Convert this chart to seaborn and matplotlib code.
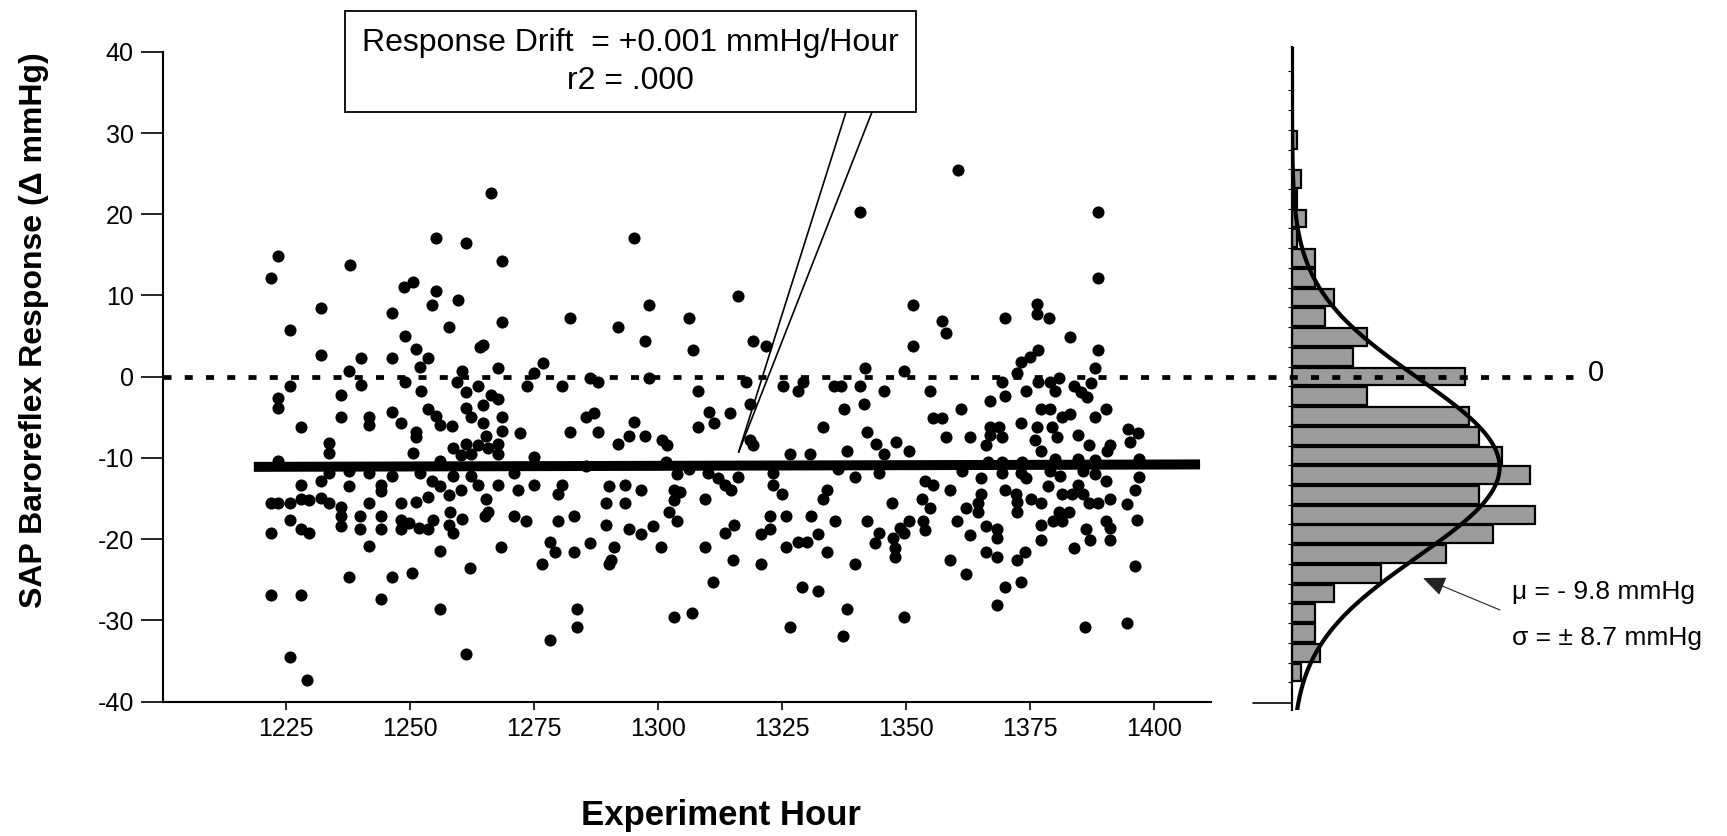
import numpy as np
import pandas as pd
import matplotlib
matplotlib.use("Agg")
import matplotlib.pyplot as plt
from matplotlib.patches import Rectangle
import seaborn as sns

# ---------------- data ----------------
hours = [
    # 1220-1260
    1255.3, 1223.4, 1221.9, 1237.9, 1248.7, 1250.5, 1255.3, 1254.5, 1232.1, 1246.4,
    1225.7, 1257.8, 1248.9, 1251.2, 1232.1, 1240.2, 1246.4, 1253.6, 1251.9, 1237.7,
    1225.7, 1248.9, 1240.2, 1252.2, 1223.4, 1223.4, 1236.1, 1236.1, 1241.7, 1241.7,
    1228.1, 1246.4, 1248.1, 1253.6, 1255.3, 1256.0, 1251.2, 1251.2, 1233.7, 1233.7,
    1250.5, 1223.4, 1256.0, 1233.7, 1237.7, 1241.7, 1251.9, 1258.7, 1228.1, 1232.1,
    1237.7, 1244.1, 1244.1, 1246.4, 1254.5, 1256.0, 1221.9, 1223.4, 1225.7, 1228.1,
    1229.7, 1232.1, 1233.7, 1236.1, 1241.7, 1248.1, 1251.2, 1253.6, 1257.8, 1248.1,
    1249.7, 1251.7, 1253.6, 1254.7, 1240.0, 1244.1, 1236.1, 1236.1, 1225.7, 1228.1,
    1229.7, 1221.9, 1240.0, 1244.1, 1248.1, 1257.8, 1258.7, 1241.7, 1256.0, 1237.7,
    1246.4, 1250.4, 1221.9, 1228.0, 1244.1, 1256.0, 1225.7, 1229.2,
    # 1258-1303
    1266.3, 1261.3, 1268.6, 1295.1, 1259.6, 1298.2, 1268.6, 1282.2, 1291.9, 1297.4,
    1264.0, 1264.6, 1260.5, 1267.8, 1275.0, 1276.7, 1259.4, 1261.2, 1263.6, 1273.5,
    1280.7, 1286.2, 1287.8, 1298.2, 1266.3, 1267.8, 1264.6, 1261.2, 1262.2, 1268.6,
    1264.6, 1258.4, 1285.5, 1287.0, 1295.1, 1268.6, 1272.2, 1282.2, 1287.8, 1294.1,
    1297.4, 1265.3, 1300.7, 1301.7, 1291.9, 1261.2, 1263.6, 1258.7, 1267.8, 1265.6,
    1267.8, 1275.0, 1262.2, 1260.2, 1270.9, 1285.5, 1301.5, 1262.2, 1267.8, 1271.8,
    1275.0, 1280.6, 1279.9, 1290.0, 1293.3, 1296.6, 1260.2, 1263.6, 1265.3, 1289.4,
    1293.3, 1265.6, 1265.0, 1260.5, 1258.1, 1270.9, 1273.3, 1279.9, 1283.1, 1289.4,
    1294.1, 1296.6, 1299.0, 1302.1, 1268.4, 1278.1, 1279.1, 1283.1, 1286.2, 1291.0,
    1290.5, 1290.0, 1300.5, 1276.6, 1262.0, 1283.7, 1283.7, 1278.1, 1261.2,
    # 1303-1348
    1340.7, 1316.0, 1306.3, 1307.0, 1319.2, 1321.8, 1341.6, 1317.7, 1308.0, 1325.1,
    1329.1, 1328.2, 1335.5, 1336.8, 1340.6, 1345.4, 1318.4, 1341.4, 1337.4, 1310.3,
    1311.2, 1314.4, 1308.0, 1333.3, 1342.1, 1343.9, 1318.5, 1319.2, 1338.1, 1345.5,
    1326.5, 1330.5, 1303.7, 1306.2, 1310.0, 1312.1, 1316.0, 1323.2, 1336.3, 1339.6,
    1344.5, 1313.4, 1314.6, 1323.2, 1324.9, 1334.0, 1333.3, 1303.1, 1304.4, 1303.1,
    1309.5, 1347.1, 1303.7, 1322.5, 1325.8, 1330.7, 1335.6, 1342.1, 1315.2, 1313.4,
    1322.5, 1320.8, 1332.3, 1328.2, 1330.0, 1325.8, 1344.4, 1343.7, 1347.8, 1347.8,
    1309.5, 1334.0, 1315.1, 1320.8, 1339.6, 1311.1, 1328.9, 1332.2, 1338.0, 1303.1,
    1306.9, 1326.5, 1337.3,
    # 1347-1397
    1360.4, 1388.7, 1388.7, 1351.4, 1357.1, 1357.9, 1369.9, 1376.4, 1376.4, 1378.8,
    1382.9, 1351.4, 1388.7, 1376.5, 1375.0, 1373.1, 1372.3, 1388.0, 1349.5, 1369.3,
    1369.9, 1374.1, 1376.5, 1379.0, 1380.7, 1379.9, 1383.8, 1385.2, 1386.4, 1387.2,
    1354.7, 1366.8, 1361.1, 1390.2, 1355.3, 1357.1, 1377.2, 1379.0, 1373.2, 1366.8,
    1368.6, 1382.9, 1381.3, 1388.0, 1376.4, 1379.3, 1357.9, 1362.8, 1366.8, 1369.3,
    1375.9, 1380.3, 1384.6, 1366.1, 1348.0, 1350.5, 1377.2, 1386.9, 1391.1, 1390.4,
    1379.9, 1384.6, 1388.0, 1366.5, 1369.3, 1373.4, 1361.2, 1365.0, 1369.3, 1373.1,
    1374.1, 1379.0, 1381.0, 1385.6, 1388.0, 1353.7, 1355.3, 1358.9, 1390.2, 1378.6,
    1384.6, 1369.9, 1365.0, 1353.1, 1372.1, 1372.4, 1375.2, 1377.2, 1381.4, 1383.4,
    1385.6, 1386.9, 1388.7, 1391.1, 1364.4, 1362.0, 1354.7, 1372.4, 1364.4, 1380.7,
    1382.8, 1379.6, 1381.3, 1350.5, 1353.3, 1360.2, 1366.0, 1368.2, 1377.2, 1390.2,
    1391.1, 1348.7, 1349.5, 1353.7, 1347.4, 1386.2, 1387.0, 1391.1, 1362.8, 1368.2,
    1377.2, 1383.8, 1366.0, 1368.3, 1373.9, 1372.4, 1358.8, 1362.0, 1369.9, 1373.1,
    1368.2, 1349.5, 1386.1,
    1394.7, 1396.7, 1395.1, 1396.9, 1396.9, 1396.0, 1394.5, 1396.4, 1396.0, 1394.4,
]

responses = [
    # 1220-1260
    17.1, 14.9, 12.2, 13.8, 11.1, 11.6, 10.5, 8.8, 8.4, 7.8,
    5.7, 6.1, 5.0, 3.4, 2.7, 2.3, 2.3, 2.3, 1.2, 0.7,
    -1.1, -0.6, -1.0, -1.7, -2.6, -3.9, -2.3, -5.0, -5.0, -5.9,
    -6.2, -4.4, -5.7, -4.0, -4.8, -5.9, -6.8, -7.4, -8.2, -9.4,
    -9.4, -10.4, -10.4, -11.8, -11.6, -11.8, -11.8, -12.2, -13.3, -12.9,
    -13.4, -13.3, -14.1, -12.2, -12.9, -13.5, -15.5, -15.5, -15.5, -15.0,
    -15.2, -14.9, -15.5, -16.1, -15.5, -15.5, -15.4, -14.8, -14.6, -17.7,
    -18.0, -18.6, -18.8, -17.7, -17.2, -17.2, -17.1, -18.4, -17.6, -18.8,
    -19.3, -19.2, -18.7, -18.7, -18.7, -18.2, -19.3, -20.9, -21.4, -24.7,
    -24.7, -24.2, -26.9, -26.9, -27.4, -28.6, -34.5, -37.4,
    # 1258-1303
    22.6, 16.5, 14.3, 17.1, 9.4, 8.8, 6.7, 7.2, 6.1, 4.4,
    3.6, 3.9, 0.7, 1.1, 0.5, 1.7, -0.6, -1.9, -1.2, -1.2,
    -1.2, -0.1, -0.7, -0.1, -2.3, -2.8, -3.5, -3.9, -5.0, -5.0,
    -5.7, -6.1, -5.0, -4.5, -5.6, -6.7, -6.9, -6.8, -6.8, -7.3,
    -7.3, -7.3, -7.8, -8.4, -8.3, -8.3, -8.4, -8.8, -8.3, -8.8,
    -9.5, -9.9, -9.5, -9.7, -11.8, -11.0, -10.5, -12.2, -13.3, -14.0,
    -13.3, -13.3, -14.4, -13.4, -13.3, -14.0, -14.0, -13.3, -15.1, -15.5,
    -15.5, -16.7, -17.1, -17.5, -16.7, -17.1, -17.8, -17.8, -17.2, -18.3,
    -18.8, -19.4, -18.4, -16.7, -21.0, -20.3, -21.6, -21.6, -20.5, -21.0,
    -22.6, -23.1, -21.0, -23.1, -23.6, -28.6, -30.8, -32.4, -34.1,
    # 1303-1348
    20.3, 9.9, 7.2, 3.3, 4.4, 3.8, 1.1, -0.7, -1.7, -1.1,
    -0.6, -1.7, -1.1, -1.1, -1.1, -1.7, -3.4, -3.4, -4.0, -4.4,
    -5.7, -4.5, -6.2, -6.2, -6.8, -8.3, -7.8, -8.4, -9.1, -9.5,
    -9.5, -9.5, -12.0, -11.4, -11.8, -12.5, -12.4, -11.8, -11.4, -12.4,
    -11.8, -13.3, -14.0, -13.3, -14.5, -14.0, -15.1, -14.0, -14.2, -15.2,
    -15.1, -15.6, -17.8, -17.2, -17.2, -17.2, -17.8, -17.8, -18.3, -19.3,
    -18.8, -19.4, -19.4, -20.4, -20.4, -21.0, -19.3, -20.5, -21.1, -22.2,
    -21.0, -21.6, -22.6, -23.1, -23.1, -25.3, -25.9, -26.4, -28.6, -29.6,
    -29.1, -30.8, -31.9,
    # 1347-1397
    25.4, 20.3, 12.1, 8.8, 6.8, 5.4, 7.2, 9.0, 7.7, 7.2,
    4.9, 3.8, 3.3, 3.3, 2.4, 1.8, 0.5, 1.1, 0.7, -0.7,
    -2.4, -1.7, -0.7, -0.7, -0.1, -1.7, -1.2, -1.9, -2.5, -0.8,
    -1.7, -3.0, -4.0, -4.0, -5.1, -5.1, -4.0, -4.0, -5.7, -6.2,
    -6.2, -4.6, -5.0, -5.0, -6.2, -6.2, -7.4, -7.4, -7.2, -7.4,
    -7.8, -7.4, -7.2, -8.4, -8.0, -9.1, -9.1, -8.4, -8.4, -9.1,
    -10.1, -10.1, -10.3, -10.5, -10.5, -10.5, -11.6, -12.5, -11.8, -11.8,
    -12.5, -11.6, -12.2, -11.6, -12.0, -12.9, -13.3, -14.0, -12.9, -13.4,
    -13.3, -14.0, -14.4, -15.0, -14.5, -15.4, -15.1, -15.6, -14.4, -14.4,
    -14.5, -15.6, -15.6, -15.0, -15.6, -16.2, -16.2, -16.6, -16.6, -16.7,
    -16.7, -17.8, -17.8, -17.8, -17.8, -17.8, -18.4, -18.8, -18.2, -17.8,
    -18.6, -18.6, -19.2, -18.9, -19.9, -18.8, -20.1, -20.1, -19.5, -19.9,
    -20.1, -21.1, -21.6, -22.2, -21.6, -22.6, -22.6, -24.3, -25.9, -25.3,
    -28.1, -29.6, -30.8,
    -6.4, -6.9, -8.0, -10.1, -12.3, -14.0, -15.7, -17.6, -23.3, -30.3,
]

reg_hours = [1218.5, 1409.2]
reg_responses = [-11.1, -10.8]
zero_level = 0.0

x_ticks = [1225, 1250, 1275, 1300, 1325, 1350, 1375, 1400]
y_ticks = [-40, -30, -20, -10, 0, 10, 20, 30, 40]

hist_bin_centers = [30, 27.5, 25, 22.5, 20, 17.5, 15, 12.5, 10, 7.5, 5, 2.5, 0,
                    -2.5, -5, -7.5, -10, -12.5, -15, -17.5, -20, -22.5, -25,
                    -27.5, -30, -32.5, -35, -37.5]
hist_counts = [1, 0, 2, 1, 3, 1, 5, 5, 9, 7, 16, 13, 37,
               16, 38, 40, 45, 51, 40, 52, 43, 33, 19,
               9, 5, 5, 6, 2]
hist_bin_width = 2.5
curve_mean = -11.5
curve_sd = 11.3

box_lines = ["Response Drift  = +0.001 mmHg/Hour", "r2 = .000"]
stat_lines = ["\u03bc = - 9.8 mmHg", "\u03c3 = \u00b1 8.7 mmHg"]
callout_target = (1316.2, -9.3)
x_label = "Experiment Hour"
y_label = "SAP Baroreflex Response (\u0394 mmHg)"

# ---------------- drawing ----------------
sns.set_theme(style="white")
plt.rcParams["font.family"] = ["Liberation Sans", "DejaVu Sans"]
plt.rcParams["text.color"] = "black"
plt.rcParams["axes.labelcolor"] = "black"
plt.rcParams["xtick.color"] = "black"
plt.rcParams["ytick.color"] = "black"

W, H = 1727, 836
fig = plt.figure(figsize=(W / 100, H / 100), dpi=100)

def frac_rect(x0, y0, x1, y1):
    # pixel box (top-left origin) -> figure fraction rect
    return [x0 / W, (H - y1) / H, (x1 - x0) / W, (y1 - y0) / H]

ax = fig.add_axes(frac_rect(163, 51.8, 1211, 701.6))
ax.set_zorder(3)
ax.set_xlim(1200.2, 1411.4)
ax.set_ylim(-40, 40)

scatter_df = pd.DataFrame({"hour": hours, "response": responses})
sns.scatterplot(data=scatter_df, x="hour", y="response", ax=ax, color="black",
                s=76, linewidth=0, zorder=3, legend=False)
ax.plot(reg_hours, reg_responses, color="black", lw=7.2,
        solid_capstyle="butt", zorder=4)
ax.axhline(zero_level, xmin=0, xmax=1.3454, clip_on=False, color="black",
           lw=3.4, linestyle=(0, (1.7, 2.8)), dash_capstyle="butt", zorder=5)

ax.set_xticks(x_ticks)
ax.set_yticks(y_ticks)
ax.set_xticklabels([str(t) for t in x_ticks])
ax.set_yticklabels([str(t) for t in y_ticks])
ax.tick_params(axis="y", direction="out", length=16, width=1.2,
               labelsize=18, pad=5, left=True)
ax.tick_params(axis="x", direction="out", length=6, width=1.2,
               labelsize=18, pad=5, bottom=True)
for side in ["top", "right"]:
    ax.spines[side].set_visible(False)
for side in ["left", "bottom"]:
    ax.spines[side].set_color("black")
    ax.spines[side].set_linewidth(1.5)
ax.set_xlabel("")
ax.set_ylabel("")

# callout box with pointer
fig.patches.append(Rectangle((345 / W, (H - 112) / H), (916 - 345) / W, (112 - 11) / H,
                             transform=fig.transFigure, facecolor="white",
                             edgecolor="black", lw=1.3, zorder=10))
fig.text(630 / W, (H - 43) / H, box_lines[0], ha="center", va="center",
         fontsize=23, zorder=11)
fig.text(630 / W, (H - 81) / H, box_lines[1], ha="center", va="center",
         fontsize=23, zorder=11)
for bx in (846, 872):
    ax.annotate("", xy=callout_target, xycoords="data",
                xytext=(bx / W, (H - 112) / H), textcoords="figure fraction",
                arrowprops=dict(arrowstyle="-", lw=1.2, color="black",
                                shrinkA=0, shrinkB=0), annotation_clip=False)

# histogram panel
ax_h = fig.add_axes(frac_rect(1292, 46.5, 1292 + 326.7, 710.4))
ax_h.set_zorder(1)
hist_df = pd.DataFrame({"bin": hist_bin_centers, "count": hist_counts})
edges = [float(e) for e in np.arange(-38.75, 31.26, hist_bin_width)]
sns.histplot(data=hist_df, y="bin", weights="count", bins=edges, ax=ax_h,
             color="#9c9c9c", edgecolor="black", linewidth=1.6, alpha=1,
             shrink=0.9)
ax_h.set_ylim(-42.3, 41.8)
ax_h.set_xlim(0, 70)
n_total = float(np.sum(hist_counts))
yy = np.linspace(-42.3, 41.8, 500)
xx = n_total * hist_bin_width * np.exp(-0.5 * ((yy - curve_mean) / curve_sd) ** 2) / (curve_sd * np.sqrt(2 * np.pi))
ax_h.plot(xx, yy, color="black", lw=3, zorder=4)
for side in ["top", "right", "bottom"]:
    ax_h.spines[side].set_visible(False)
ax_h.spines["left"].set_color("black")
ax_h.spines["left"].set_linewidth(1.6)
ax_h.set_xticks([])
ax_h.set_yticks(np.arange(-38.75, 41.0, hist_bin_width))
ax_h.tick_params(axis="y", direction="out", length=3, width=0.8, labelleft=False,
                 left=True)
ax_h.axhline(-41.4, xmin=-0.12, xmax=0, clip_on=False, color="black", lw=1.2)
ax_h.set_xlabel("")
ax_h.set_ylabel("")
ax_h.patch.set_alpha(0)

# labels and side texts
fig.text(1596 / W, (H - 373) / H, "0", ha="center", va="center", fontsize=21)
fig.text(1512 / W, (H - 592) / H, stat_lines[0], ha="left", va="center", fontsize=19)
fig.text(1512 / W, (H - 638) / H, stat_lines[1], ha="left", va="center", fontsize=19)
ax_h.annotate("", xy=(1423, H - 578), xycoords="figure pixels",
              xytext=(1500, H - 610), textcoords="figure pixels",
              arrowprops=dict(arrowstyle="-|>,head_length=0.7,head_width=0.3",
                              lw=0.8, color="#222222", mutation_scale=20,
                              shrinkA=0, shrinkB=0), annotation_clip=False)

fig.text(34 / W, (H - 330) / H, y_label, rotation=90, ha="center", va="center",
         fontsize=23, fontweight="bold")
fig.text(721 / W, (H - 815) / H, x_label, ha="center", va="center",
         fontsize=25, fontweight="bold")

fig.savefig("out.png", dpi=100, facecolor="white")
